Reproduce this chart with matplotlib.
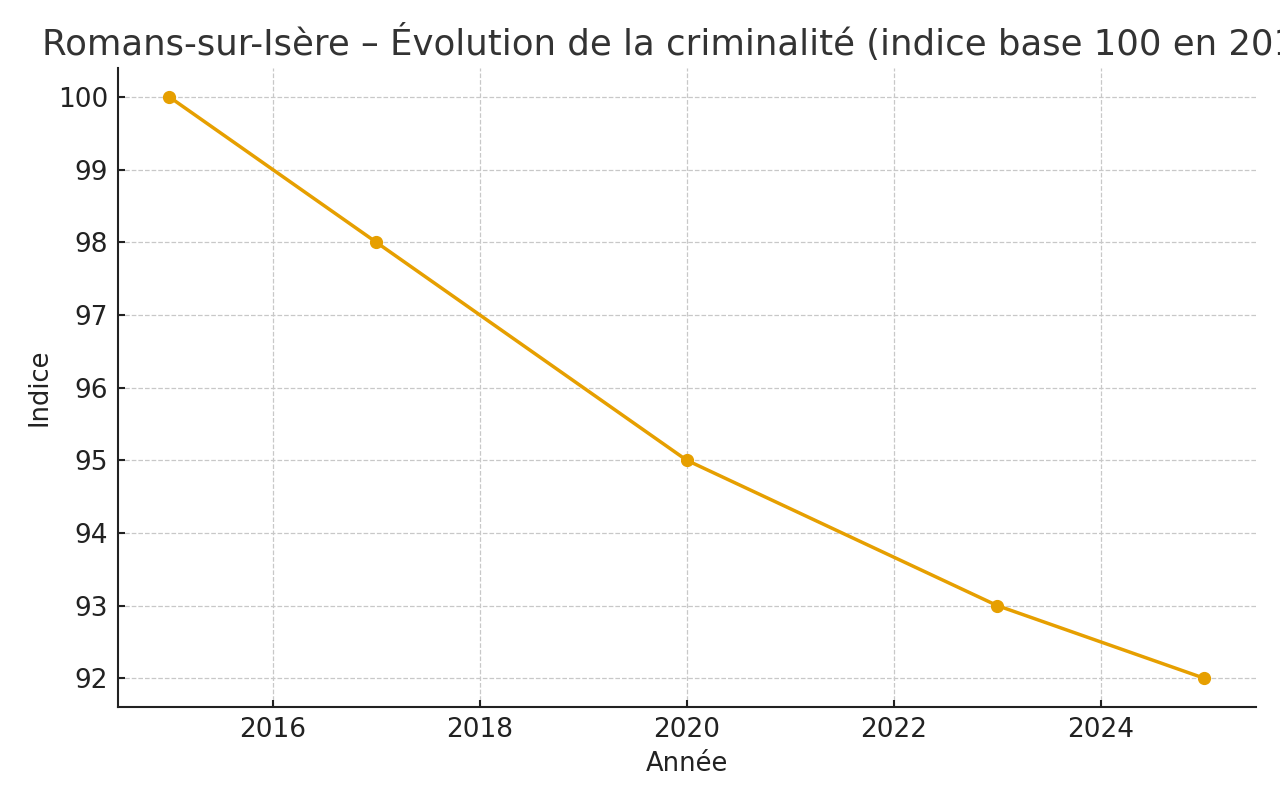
import matplotlib
matplotlib.use("Agg")
import matplotlib.pyplot as plt

# Indice de criminalité, base 100 en 2015
annees = [2015, 2017, 2020, 2023, 2025]
indice = [100, 98, 95, 93, 92]

titre = "Romans-sur-Isère – Évolution de la criminalité (indice base 100 en 2015)"

plt.rcParams['font.family'] = ['DejaVu Sans']

fig = plt.figure(figsize=(12.8, 8), dpi=100)
ax = fig.add_axes([0.092, 0.116, 0.889, 0.799])

ax.plot(annees, indice, color='#E69F00', linewidth=2.5, marker='o', markersize=8.5)

ax.set_title(titre, fontsize=25.6, color='#333333', pad=9)
ax.set_xlabel("Année", fontsize=18.5, color='#222222', labelpad=6)
ax.set_ylabel("Indice", fontsize=18.5, color='#222222', labelpad=4)

ax.set_xticks([2016, 2018, 2020, 2022, 2024])
ax.set_yticks(range(92, 101))
ax.tick_params(direction='in', length=5, width=1.5, labelsize=19,
               colors='#222222', pad=7)

ax.grid(True, linestyle='--', color='#c8c8c8', linewidth=0.9)
ax.set_axisbelow(True)

for side in ['top', 'right']:
    ax.spines[side].set_visible(False)
for side in ['left', 'bottom']:
    ax.spines[side].set_linewidth(1.5)
    ax.spines[side].set_color('#222222')

fig.savefig("out.png", dpi=100)
